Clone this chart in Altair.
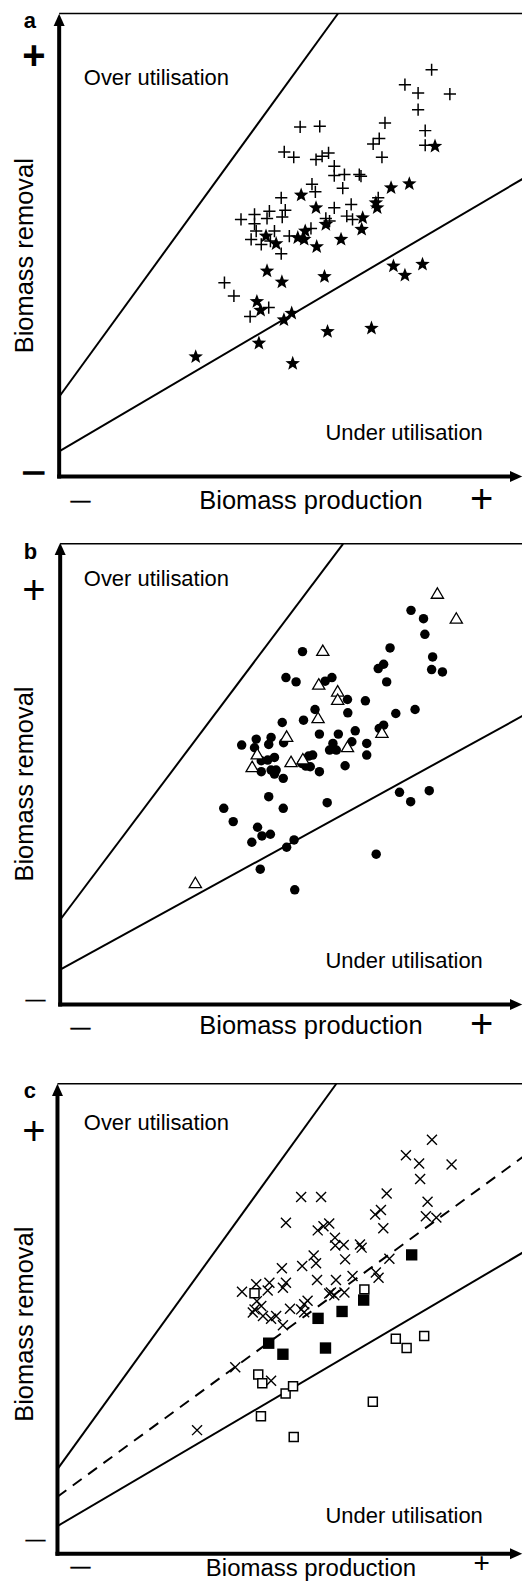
import altair as alt
import pandas as pd

FONT = "Liberation Sans"

# ---------------- panel a ----------------
a_plus_x = [1277,1198,1237,1331,1237,1139,1258,1122,1104,1258,1130,888,946,841,869,935,953,972,989,989,1019,1063,1068,923,933,1014,832,989,1039,1119,1026,1043,964,975,713,753,797,844,753,790,835,758,812,920,856,743,773,800,832,664,692,795,740]
a_plus_y = [1295,1250,1225,1222,1175,1135,1112,1088,1072,1068,1032,1123,1125,1048,1032,1025,1035,1045,1005,977,980,980,975,951,928,939,910,880,890,910,855,845,848,840,845,860,870,873,832,848,852,810,810,818,795,785,770,780,742,655,615,580,553]
a_star_x = [1287,1211,1157,1112,1116,1073,1070,891,935,964,1009,937,881,900,903,787,817,790,834,960,1164,1198,1250,760,771,863,840,766,969,1099,579,866]
a_star_y = [1065,952,940,895,880,850,815,918,880,830,785,763,790,785,810,795,772,690,657,673,705,677,710,598,572,563,543,473,508,518,432,412]
a_lines_x1 = [175, 175]
a_lines_y1 = [312, 148]
a_lines_x2 = [1000, 1568]
a_lines_y2 = [1464, 980]

# ---------------- panel b ----------------
b_dot_x = [1216,1253,1257,1154,1280,1135,1119,1277,1309,1144,895,846,876,962,982,1081,1028,1029,1171,1228,932,898,835,945,1001,1051,1122,1135,1041,1085,1085,985,975,995,925,913,893,905,918,945,1021,758,753,715,802,795,839,773,792,812,773,802,817,812,838,795,838,968,662,690,762,775,800,745,870,848,1113,770,872,1182,1215,1270]
b_dot_y = [1230,1205,1158,1117,1090,1068,1055,1052,1045,1015,1106,1028,1015,1017,1028,958,962,922,920,932,932,900,893,858,858,868,875,885,835,830,795,830,810,810,795,792,770,762,760,745,763,843,817,825,848,827,832,778,780,788,745,750,750,738,725,670,635,652,635,595,578,552,557,533,540,518,497,452,390,683,655,688]
b_tri_x = [1294,1350,955,943,999,999,941,848,761,746,861,896,1028,1130,578]
b_tri_y = [1283,1208,1111,1010,989,964,909,853,800,762,777,785,822,865,413]
b_lines_x1 = [178, 178]
b_lines_y1 = [300, 150]
b_lines_x2 = [1015, 1568]
b_lines_y2 = [1430, 925]

# ---------------- panel c ----------------
c_x_x = [1278,1201,1240,1336,1243,1144,1265,1127,1110,1260,1291,1134,891,950,846,940,957,974,991,992,1017,1065,1070,928,935,1021,1152,834,894,1043,1112,1120,938,994,979,1019,989,846,837,797,792,758,716,760,753,748,773,778,802,817,837,858,891,900,910,900,974,696,802,583]
c_x_y = [1330,1285,1261,1258,1216,1174,1150,1126,1113,1108,1104,1073,1164,1164,1089,1067,1079,1087,1046,1023,1025,1026,1017,994,972,983,985,957,964,935,945,930,923,923,887,887,879,915,901,915,893,911,889,862,838,829,848,819,811,819,792,840,838,830,863,853,884,670,631,488]
c_open_x = [753,1078,1171,1203,1255,764,776,845,867,1103,772,869]
c_open_y = [885,896,753,726,761,649,624,594,615,570,528,468]
c_fill_x = [1218,1076,1012,941,795,837,963]
c_fill_y = [996,865,832,812,740,708,726]
c_lines_x1 = [170, 170]
c_lines_y1 = [375, 210]
c_lines_x2 = [995, 1568]
c_lines_y2 = [1492, 1015]
c_dash_x1 = [170]
c_dash_y1 = [295]
c_dash_x2 = [1568]
c_dash_y2 = [1295]

XDOM = [23.62, 1544.4]
W = 515

PLUS = "M-1,0H1M0,-1V1"
XMARK = "M-1,-1L1,1M1,-1L-1,1"
STAR = ("M0,-1L0.247,-0.34L0.951,-0.309L0.399,0.13L0.588,0.809L0,0.42"
        "L-0.588,0.809L-0.399,0.13L-0.951,-0.309L-0.247,-0.34Z")
TRI = "M0,-0.8L1,0.9L-1,0.9Z"
ARROW_UP = "M0,-1L0.9,1L-0.9,1Z"
ARROW_RIGHT = "M1,0L-1,-0.9L-1,0.9Z"


def make_panel(letter, height, ydom, ax_x, ax_y, top_y, arrow_up_y, geo, labels,
               lines, dashed, series):
    xs = alt.Scale(domain=XDOM, nice=False, zero=False)
    ys = alt.Scale(domain=ydom, nice=False, zero=False)

    def X(f="x"):
        return alt.X(f"{f}:Q", scale=xs, axis=None)

    def Y(f="y"):
        return alt.Y(f"{f}:Q", scale=ys, axis=None)

    def segs(x1, y1, x2, y2, width, dash=None, cap="butt"):
        df = pd.DataFrame({"x": x1, "y": y1, "x2": x2, "y2": y2})
        kw = dict(color="black", strokeWidth=width, clip=True, strokeCap=cap)
        if dash:
            kw["strokeDash"] = dash
        return alt.Chart(df).mark_rule(**kw).encode(x=X(), y=Y(), x2="x2:Q", y2="y2:Q")

    layers = []
    # frame: top border, axes
    layers.append(segs([ax_x], [top_y], [1568], [top_y], 1.5))
    layers.append(segs([ax_x], [ax_y], [ax_x], [arrow_up_y - 15], 4, cap="square"))
    layers.append(segs([ax_x], [ax_y], [1515], [ax_y], 4, cap="square"))
    # arrows
    layers.append(alt.Chart(pd.DataFrame({"x": [ax_x], "y": [arrow_up_y]})).mark_point(
        shape=ARROW_UP, size=150, filled=True, color="black", opacity=1).encode(x=X(), y=Y()))
    layers.append(alt.Chart(pd.DataFrame({"x": [1527], "y": [ax_y]})).mark_point(
        shape=ARROW_RIGHT, size=150, filled=True, color="black", opacity=1).encode(x=X(), y=Y()))
    # utilisation boundaries
    layers.append(segs(*lines, 2))
    if dashed is not None:
        layers.append(segs(*dashed, 2, dash=[11, 8]))
    # data points
    for xs_, ys_, style in series:
        df = pd.DataFrame({"x": xs_, "y": ys_})
        layers.append(alt.Chart(df).mark_point(opacity=1, clip=True, **style).encode(x=X(), y=Y()))
    # texts
    t = geo

    def txt(x, y, s, size, weight="normal", align="center", angle=0, sw=0):
        kw = dict(font=FONT, fontSize=size, fontWeight=weight, align=align,
                  baseline="middle", color="black", angle=angle)
        if sw:
            kw["stroke"] = "black"
            kw["strokeWidth"] = sw
        return alt.Chart(pd.DataFrame({"x": [x], "y": [y], "t": [s]})).mark_text(**kw).encode(
            x=X(), y=Y(), text="t:N")
    layers.append(txt(t["letter"][0], t["letter"][1], letter, 22, "bold"))
    layers.append(txt(t["plus"][0], t["plus"][1], "+", 40, t["pw"]))
    layers.append(txt(t["minus"][0], t["minus"][1], "—", 20, t["pw"], sw=t["msw"]))
    layers.append(txt(248, t["over"], labels[0], 22, align="left"))
    layers.append(txt(963, t["under"], labels[1], 22, align="left"))
    layers.append(txt(75, t["ylab"], labels[2], 25.5, angle=270))
    layers.append(txt(920, t["xlab"], labels[3], t.get("xsize", 25.5)))
    layers.append(txt(238, t["xminus"], "—", 20, sw=0.4))
    layers.append(txt(1425, t["xplus"], "+", t.get("psize", 40)))
    return alt.layer(*layers).properties(width=W, height=height)


LABELS = ["Over utilisation", "Under utilisation", "Biomass removal", "Biomass production"]

plus_style = dict(shape=PLUS, size=150, filled=False, stroke="black", strokeWidth=1.5)
star_style = dict(shape=STAR, size=235, filled=True, fill="black", strokeWidth=0)
dot_style = dict(shape="circle", size=90, filled=True, fill="black", strokeWidth=0)
tri_style = dict(shape=TRI, size=150, filled=False, fill="white", stroke="black", strokeWidth=1.3)
x_style = dict(shape=XMARK, size=100, filled=False, stroke="black", strokeWidth=1.4)
open_sq = dict(shape="square", size=81, filled=False, fill="white", stroke="black", strokeWidth=1.5)
fill_sq = dict(shape="square", size=130, filled=True, fill="black", strokeWidth=0)

pa = make_panel(
    "a", 512, [-60, 1476], 175, 72, 1464, 1445,
    dict(letter=(88, 1442), plus=(100, 1332), minus=(100, 85), pw="bold", msw=1.6,
         over=1270, under=202, ylab=736, xlab=0, xminus=0, xplus=0),
    LABELS, (a_lines_x1, a_lines_y1, a_lines_x2, a_lines_y2), None,
    [(a_plus_x, a_plus_y, plus_style), (a_star_x, a_star_y, star_style)])

pb = make_panel(
    "b", 520, [-60, 1500], 178, 45, 1430, 1415,
    dict(letter=(90, 1405), plus=(100, 1285), minus=(105, 60), pw="normal", msw=0.3,
         over=1325, under=175, ylab=708, xlab=-18, xminus=-25, xplus=-20),
    LABELS, (b_lines_x1, b_lines_y1, b_lines_x2, b_lines_y2), None,
    [(b_dot_x, b_dot_y, dot_style), (b_tri_x, b_tri_y, tri_style)])

pc = make_panel(
    "c", 534, [55.1, 1600], 170, 130, 1492, 1474,
    dict(letter=(88, 1470), plus=(100, 1350), minus=(105, 170), pw="normal", msw=0.3,
         over=1378, under=238, ylab=795, xlab=86, xsize=24, xminus=90, xplus=100,
         psize=28),
    LABELS, (c_lines_x1, c_lines_y1, c_lines_x2, c_lines_y2),
    (c_dash_x1, c_dash_y1, c_dash_x2, c_dash_y2),
    [(c_x_x, c_x_y, x_style), (c_open_x, c_open_y, open_sq), (c_fill_x, c_fill_y, fill_sq)])

chart = alt.vconcat(pa, pb, pc, spacing=0).properties(padding=0).configure_view(
    strokeWidth=0).configure_concat(spacing=0)

chart.save("out.html", embed_options={"renderer": "svg", "actions": False})
